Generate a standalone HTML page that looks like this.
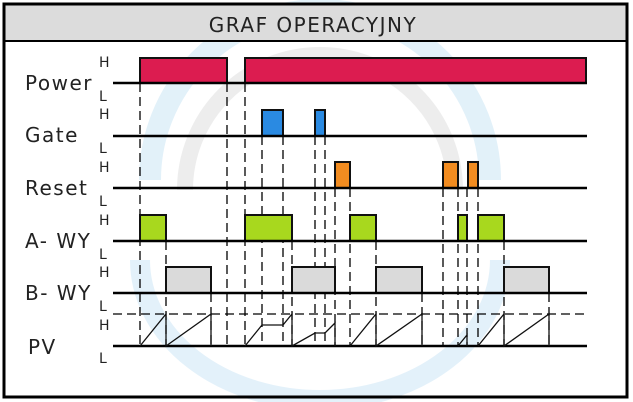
<!DOCTYPE html>
<html><head><meta charset="utf-8"><style>
html,body{margin:0;padding:0;background:#fff;}
svg{display:block;}
text{font-family:"DejaVu Sans","Liberation Sans",sans-serif;fill:#222;}
</style></head><body>
<svg width="633" height="402" viewBox="0 0 633 402" xmlns="http://www.w3.org/2000/svg">
<rect x="0" y="0" width="633" height="402" fill="#fff"/>
<g fill="none" opacity="0.25">
<path d="M150 180 A 170 170 0 0 1 490 180" stroke="#8ec8ea" stroke-width="22"/>
<path d="M185 190 A 135 135 0 0 1 455 190" stroke="#bbb" stroke-width="16"/>
<path d="M140 260 A 180 140 0 0 0 500 260" stroke="#8ec8ea" stroke-width="20"/>
</g>
<rect x="4" y="4" width="623" height="393" fill="none" stroke="#000" stroke-width="3"/>
<rect x="5.5" y="5.5" width="620" height="35" fill="#dcdcdc"/>
<line x1="4" y1="41" x2="627" y2="41" stroke="#000" stroke-width="2"/>
<text x="313" y="32" font-size="20" text-anchor="middle" letter-spacing="1.5">GRAF OPERACYJNY</text>
<g font-size="20" letter-spacing="1.5">
<text x="25" y="90">Power</text>
<text x="25" y="142">Gate</text>
<text x="25" y="195">Reset</text>
<text x="25" y="248">A- WY</text>
<text x="25" y="300">B- WY</text>
<text x="28" y="354">PV</text>
</g>
<g font-size="14">
<text x="99" y="67">H</text><text x="99" y="101">L</text>
<text x="99" y="119">H</text><text x="99" y="153">L</text>
<text x="99" y="172">H</text><text x="99" y="206">L</text>
<text x="99" y="225">H</text><text x="99" y="259">L</text>
<text x="99" y="277">H</text><text x="99" y="311">L</text>
<text x="99" y="330">H</text><text x="99" y="363">L</text>
</g>
<g stroke="#000" stroke-width="1.3" stroke-dasharray="9,5">
<line x1="140" y1="83" x2="140" y2="346"/><line x1="166" y1="241" x2="166" y2="346"/>
<line x1="211" y1="293" x2="211" y2="346"/><line x1="227" y1="83" x2="227" y2="346"/>
<line x1="245" y1="83" x2="245" y2="346"/><line x1="262" y1="136" x2="262" y2="346"/>
<line x1="283" y1="136" x2="283" y2="346"/><line x1="292" y1="241" x2="292" y2="346"/>
<line x1="315" y1="136" x2="315" y2="346"/><line x1="325" y1="136" x2="325" y2="346"/>
<line x1="335" y1="188" x2="335" y2="346"/><line x1="350" y1="188" x2="350" y2="346"/>
<line x1="376" y1="241" x2="376" y2="346"/><line x1="422" y1="293" x2="422" y2="346"/>
<line x1="443" y1="188" x2="443" y2="346"/><line x1="458" y1="188" x2="458" y2="346"/>
<line x1="467" y1="188" x2="467" y2="346"/><line x1="478" y1="188" x2="478" y2="346"/>
<line x1="504" y1="241" x2="504" y2="346"/><line x1="549" y1="293" x2="549" y2="346"/>
<line x1="113" y1="314" x2="587" y2="314"/>
</g>
<g stroke="#111" stroke-width="2">
<rect x="140" y="58" width="87" height="25" fill="#dc1c50"/>
<rect x="245" y="58" width="341" height="25" fill="#dc1c50"/>
<rect x="262" y="110" width="21" height="26" fill="#2a8ae2"/>
<rect x="315" y="110" width="10" height="26" fill="#2a8ae2"/>
<rect x="335" y="162" width="15" height="26" fill="#f28c20"/>
<rect x="443" y="162" width="15" height="26" fill="#f28c20"/>
<rect x="468" y="162" width="10" height="26" fill="#f28c20"/>
<rect x="140" y="215" width="26" height="26" fill="#a8d81e"/>
<rect x="245" y="215" width="47" height="26" fill="#a8d81e"/>
<rect x="350" y="215" width="26" height="26" fill="#a8d81e"/>
<rect x="458" y="215" width="9" height="26" fill="#a8d81e"/>
<rect x="478" y="215" width="26" height="26" fill="#a8d81e"/>
<rect x="166" y="267" width="45" height="26" fill="#dadada"/>
<rect x="292" y="267" width="43" height="26" fill="#dadada"/>
<rect x="376" y="267" width="46" height="26" fill="#dadada"/>
<rect x="504" y="267" width="45" height="26" fill="#dadada"/>
</g>
<g stroke="#000" stroke-width="2.5">
<line x1="113" y1="83" x2="587" y2="83"/><line x1="113" y1="136" x2="587" y2="136"/>
<line x1="113" y1="188" x2="587" y2="188"/><line x1="113" y1="241" x2="587" y2="241"/>
<line x1="113" y1="293" x2="587" y2="293"/><line x1="113" y1="346" x2="587" y2="346"/>
</g>
<g stroke="#111" stroke-width="1.3" fill="none">
<path d="M140 346 L166 314 L166 346 L211 314 L211 346"/>
<path d="M245 346 L262 325 L283 325 L292 314 L292 346 L315 333 L325 333 L335 323 L335 346"/>
<path d="M350 346 L376 314 L376 346 L422 314 L422 346"/>
<path d="M458 346 L467 335 L467 346"/>
<path d="M478 346 L504 314 L504 346 L549 314 L549 346"/>
</g>
</svg>
</body></html>
